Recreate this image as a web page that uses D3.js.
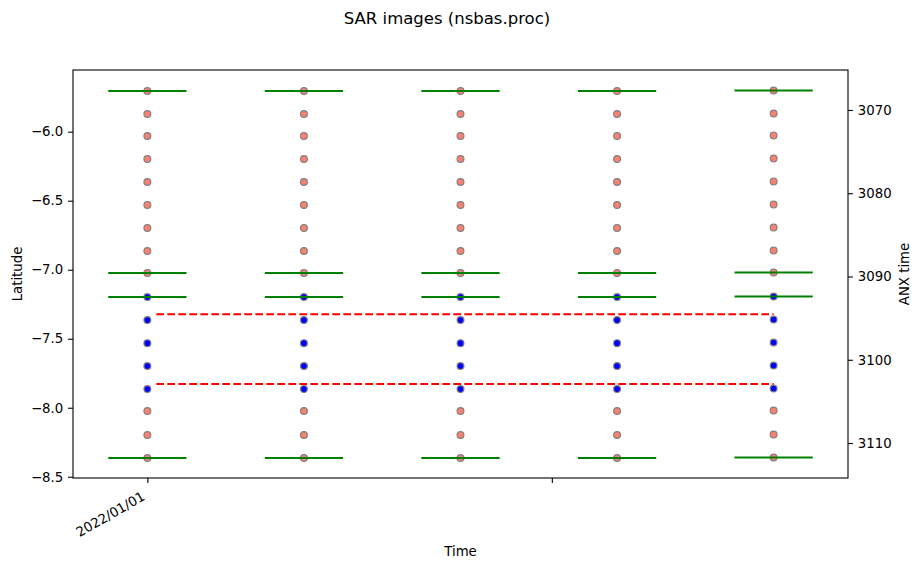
<!DOCTYPE html>
<html lang="en">
<head>
<meta charset="utf-8">
<title>SAR images (nsbas.proc)</title>
<script src="https://cdnjs.cloudflare.com/ajax/libs/d3/7.8.5/d3.min.js"></script>
<style>
  body { margin: 0; background: #fff; }
  text { font-family: "DejaVu Sans", sans-serif; }
</style>
</head>
<body>
<script>
// acquisitions, 12 days apart
var dates = ["2022-01-01", "2022-01-13", "2022-01-25", "2022-02-06", "2022-02-18"];
// small latitude shift of each acquisition
var dateShift = [0, 0, 0, 0, 0.004];
// burst centre latitudes, north to south
var burstLat = [-5.705, -5.872, -6.031, -6.198, -6.364, -6.531, -6.698, -6.864, -7.024,
                -7.198, -7.365, -7.532, -7.698, -7.865, -8.024, -8.198, -8.364];
// bursts selected for the processing (blue)
var aoiBursts = [9, 10, 11, 12, 13];
// bursts marked with a green bar
var edgeBursts = [0, 8, 9, 16];
var edgeHalfDays = 3;
// area of interest (red dashed)
var aoiLat = [-7.323, -7.828];
var aoiTime = ["2022-01-01T16:30", "2022-02-18T00:00"];

var latLimits = [-8.509, -5.553];
var anxLimits = [3065.2, 3114.2];
var latTicks = [-6.0, -6.5, -7.0, -7.5, -8.0, -8.5];
var anxTicks = [3070, 3080, 3090, 3100, 3110];
var timeTicks = ["2022-01-01", "2022-02-01"];
var timeTickLabels = ["2022/01/01", ""];

var W = 922, H = 569;
var m = {top: 70, right: 74, bottom: 91, left: 73};
var w = W - m.left - m.right;
var h = H - m.top - m.bottom;
var DAY = 864e5;

var parseDay = d3.utcParse("%Y-%m-%d");
var parseTime = d3.utcParse("%Y-%m-%dT%H:%M");
var days = dates.map(parseDay);

// x range: green bars plus 5% margin
var t0 = +d3.min(days) - edgeHalfDays * DAY;
var t1 = +d3.max(days) + edgeHalfDays * DAY;
var pad = (t1 - t0) * 0.05;

var x = d3.scaleUtc()
    .domain([new Date(t0 - pad), new Date(t1 + pad)])
    .range([0, w]);
var y = d3.scaleLinear()
    .domain(latLimits)
    .range([h, 0]);
var yAnx = d3.scaleLinear()
    .domain(anxLimits)
    .range([0, h]);

var points = [];
days.forEach(function(t, i) {
    burstLat.forEach(function(lat, j) {
        points.push({t: t, lat: lat + dateShift[i], aoi: aoiBursts.indexOf(j) >= 0});
    });
});

var bars = [];
days.forEach(function(t, i) {
    edgeBursts.forEach(function(j) {
        bars.push({t: t, lat: burstLat[j] + dateShift[i]});
    });
});

var svg = d3.select("body")
    .append("svg")
    .attr("width", W)
    .attr("height", H);

svg.append("text")
    .attr("x", 447)
    .attr("y", 24)
    .attr("text-anchor", "middle")
    .style("font-size", "16.5px")
    .text("SAR images (nsbas.proc)");

var g = svg.append("g")
    .attr("transform", "translate(" + m.left + "," + m.top + ")");

// bursts
g.selectAll("circle")
    .data(points)
    .enter()
    .append("circle")
    .attr("cx", function(d) { return x(d.t); })
    .attr("cy", function(d) { return y(d.lat); })
    .attr("r", 3.4)
    .attr("fill", function(d) { return d.aoi ? "#0000ff" : "#fa8072"; })
    .attr("stroke", "#808080")
    .attr("stroke-width", 1.2);

// green bars
g.selectAll(".edge")
    .data(bars)
    .enter()
    .append("line")
    .attr("class", "edge")
    .attr("x1", function(d) { return x(+d.t - edgeHalfDays * DAY); })
    .attr("x2", function(d) { return x(+d.t + edgeHalfDays * DAY); })
    .attr("y1", function(d) { return y(d.lat); })
    .attr("y2", function(d) { return y(d.lat); })
    .attr("stroke", "#008000")
    .attr("stroke-width", 2.1);

// area of interest
g.selectAll(".aoi")
    .data(aoiLat)
    .enter()
    .append("line")
    .attr("class", "aoi")
    .attr("x1", x(parseTime(aoiTime[0])))
    .attr("x2", x(parseTime(aoiTime[1])))
    .attr("y1", function(d) { return y(d); })
    .attr("y2", function(d) { return y(d); })
    .attr("stroke", "#ff0000")
    .attr("stroke-width", 2.1)
    .attr("stroke-dasharray", "7.7,3.3");

// axes
var fmtLat = d3.format(".1f");

var yAxis = g.append("g")
    .call(d3.axisLeft(y).tickValues(latTicks).tickFormat(fmtLat).tickSize(4.9).tickPadding(4.9));

var anxAxis = g.append("g")
    .attr("transform", "translate(" + w + ",0)")
    .call(d3.axisRight(yAnx).tickValues(anxTicks).tickFormat(d3.format("d")).tickSize(4.9).tickPadding(4.9));

var xAxis = g.append("g")
    .attr("transform", "translate(0," + h + ")")
    .call(d3.axisBottom(x).tickValues(timeTicks.map(parseDay)).tickFormat(function(d, i) { return timeTickLabels[i]; }).tickSize(4.9).tickPadding(4.9));

[yAxis, anxAxis, xAxis].forEach(function(a) {
    a.select(".domain").remove();
    a.selectAll("line").attr("stroke", "#000").attr("stroke-width", 1.1);
    a.selectAll("text").style("font-size", "13.3px").attr("fill", "#000").style("font-family", "DejaVu Sans");
});

// rotated date labels
xAxis.selectAll("text")
    .attr("text-anchor", "end")
    .attr("dy", null)
    .attr("y", 0)
    .attr("transform", "translate(-2,21) rotate(-30)");

// frame
g.append("rect")
    .attr("width", w)
    .attr("height", h)
    .attr("fill", "none")
    .attr("stroke", "#000")
    .attr("stroke-width", 1.1);

svg.append("text")
    .attr("x", m.left + w / 2)
    .attr("y", 556)
    .attr("text-anchor", "middle")
    .style("font-size", "13.3px")
    .text("Time");

svg.append("text")
    .attr("transform", "translate(22," + (m.top + h / 2) + ") rotate(-90)")
    .attr("text-anchor", "middle")
    .style("font-size", "13.3px")
    .text("Latitude");

svg.append("text")
    .attr("transform", "translate(909," + (m.top + h / 2) + ") rotate(-90)")
    .attr("text-anchor", "middle")
    .style("font-size", "13.3px")
    .text("ANX time");
</script>
</body>
</html>
